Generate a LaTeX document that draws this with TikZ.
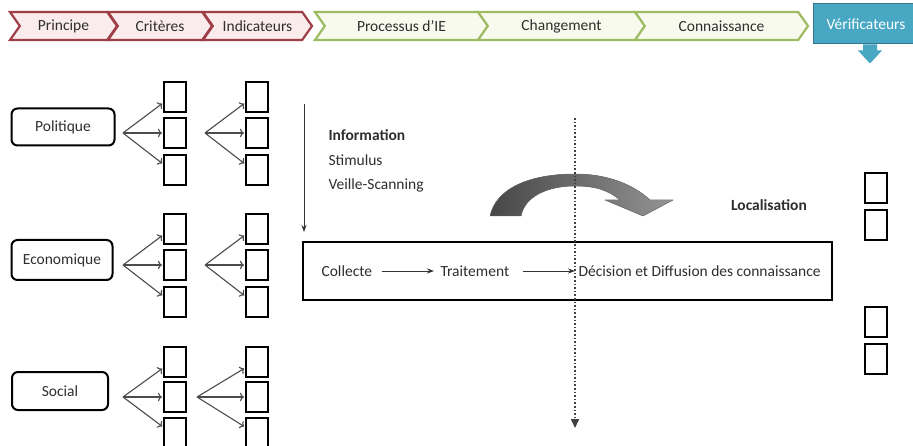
\documentclass[tikz,border=0pt]{standalone}
\usepackage{fontspec}
\setmainfont{Carlito}
\usetikzlibrary{shapes.symbols,arrows.meta}
\definecolor{chevred}{RGB}{160,62,72}
\definecolor{chevpink}{RGB}{250,236,236}
\definecolor{chevgreen}{RGB}{158,187,98}
\definecolor{chevpale}{RGB}{248,250,238}
\definecolor{verifblue}{RGB}{72,168,196}
\tikzset{
  chev/.style={signal, signal to=east, signal from=west, signal pointer angle=110,
    line width=2.2pt, minimum height=28pt, inner sep=0pt},
  redchev/.style={chev, draw=chevred, fill=chevpink},
  greenchev/.style={chev, draw=chevgreen, fill=chevpale},
  domainbox/.style={draw, line width=2pt, rounded corners=6pt, minimum height=37pt},
  sq/.style={draw, line width=2pt, minimum width=22pt, minimum height=30pt},
  fan/.style={->, line width=1.1pt, black!70, shorten >=1pt},
  flow/.style={-{Stealth[length=7pt,width=5pt]}, line width=0.9pt, black!80},
  dots/.style={-{Triangle[length=9pt,width=8pt]}, line width=1.6pt, black!75,
    dash pattern=on 1.6pt off 2pt},
}
\begin{document}
\begin{tikzpicture}[x=1pt,y=-1pt,font=\fontsize{15.5}{18}\selectfont,text=black!82]
\useasboundingbox[fill=white] (0,0) rectangle (913,446);
\node[redchev, minimum width=107pt] (principe) at (63.5,26) {Principe};
\node[redchev, minimum width=104pt] (criteres) at (160,26) {Critères};
\node[redchev, minimum width=109pt] (indic) at (257.5,26) {Indicateurs};
\node[greenchev, minimum width=173pt] (processus) at (401.5,26) {Processus d’IE};
\node[greenchev, minimum width=167pt] (changement) at (561.5,26) {Changement};
\node[greenchev, minimum width=173pt] (connaissance) at (721.5,26) {Connaissance};
\node[fill=verifblue, draw=verifblue!70!black, line width=1pt, minimum width=106pt,
  minimum height=40pt, text=white] (verif) at (866,24) {Vérificateurs};
\fill[verifblue] ([xshift=-3pt]verif.south) -- ++(0,6) -- ++(-5,0) -- ++(12,13)
  -- ++(12,-13) -- ++(-5,0) -- ++(0,-6) -- cycle;

\node[domainbox, minimum width=103pt] (politique) at (63,127) {Politique};
\node[domainbox, minimum width=101pt, minimum height=40pt] (economique) at (62,260) {Economique};
\node[domainbox, minimum width=96pt, minimum height=38pt] (social) at (60,391) {Social};

\node[sq] (p1a) at (175,97) {}; \node[sq] (p1b) at (175,133) {}; \node[sq] (p1c) at (175,170) {};
\node[sq] (p2a) at (257,97) {}; \node[sq] (p2b) at (257,133) {}; \node[sq] (p2c) at (257,170) {};
\node[sq] (e1a) at (175,229) {}; \node[sq] (e1b) at (175,265) {}; \node[sq] (e1c) at (175,302) {};
\node[sq] (e2a) at (257,229) {}; \node[sq] (e2b) at (257,265) {}; \node[sq] (e2c) at (257,302) {};
\node[sq] (s1a) at (175,362) {}; \node[sq] (s1b) at (175,397) {}; \node[sq] (s1c) at (175,433) {};
\node[sq] (s2a) at (257,362) {}; \node[sq] (s2b) at (257,397) {}; \node[sq] (s2c) at (257,433) {};

\coordinate (pf1) at (123,133); \coordinate (pf2) at (205,133);
\coordinate (ef1) at (123,265); \coordinate (ef2) at (205,265);
\coordinate (sf1) at (123,397); \coordinate (sf2) at (197,397);
\draw[fan] (pf1) -- ([yshift=-6pt]p1a.west); \draw[fan] (pf1) -- (p1b.west); \draw[fan] (pf1) -- ([yshift=6pt]p1c.west);
\draw[fan] (pf2) -- ([yshift=-6pt]p2a.west); \draw[fan] (pf2) -- (p2b.west); \draw[fan] (pf2) -- ([yshift=6pt]p2c.west);
\draw[fan] (ef1) -- ([yshift=-6pt]e1a.west); \draw[fan] (ef1) -- (e1b.west); \draw[fan] (ef1) -- ([yshift=6pt]e1c.west);
\draw[fan] (ef2) -- ([yshift=-6pt]e2a.west); \draw[fan] (ef2) -- (e2b.west); \draw[fan] (ef2) -- ([yshift=6pt]e2c.west);
\draw[fan] (sf1) -- ([yshift=-6pt]s1a.west); \draw[fan] (sf1) -- (s1b.west); \draw[fan] (sf1) -- ([yshift=6pt]s1c.west);
\draw[fan] (sf2) -- ([yshift=-6pt]s2a.west); \draw[fan] (sf2) -- (s2b.west); \draw[fan] (sf2) -- ([yshift=6pt]s2c.west);

\node[anchor=west] (info) at (325,135) {\textbf{Information}};
\node[anchor=west] (stimulus) at (325,160) {Stimulus};
\node[anchor=west] (veille) at (325,185) {Veille-Scanning};

\node[draw=black, line width=2pt, minimum width=529pt, minimum height=58pt] (procbox) at (567.5,271) {};
\coordinate (infotop) at (304,104);
\draw[flow] (infotop) -- ([yshift=9pt]infotop |- procbox.north);
\node[anchor=west] (collecte) at (318,271) {Collecte};
\node[anchor=west] (traitement) at (437,271) {Traitement};
\node[anchor=west] (decision) at (575,271) {Décision et Diffusion des connaissance};
\draw[flow, shorten <=6pt, shorten >=3pt] (collecte) -- (traitement);
\draw[flow, shorten <=10pt, shorten >=0pt] (traitement) -- (decision);

\fill[left color=black!72, right color=black!42, draw=black!55] (490,216)
  .. controls (496,188) and (530,174) .. (575,174) .. controls (610,174) and (635,186) .. (650,200)
  -- (673,200) -- (643,216) -- (605,200) -- (620,200)
  .. controls (608,190) and (595,186) .. (575,186) .. controls (548,186) and (525,196) .. (521,216) -- cycle;
\node (local) at (769,205) {\textbf{Localisation}};

\coordinate (dtop) at (575,118); \coordinate (dbot) at (575,428);
\draw[dots] (dtop) -- (dbot);

\node[sq] (v1) at (876,188) {}; \node[sq] (v2) at (876,225) {};
\node[sq] (v3) at (876,322) {}; \node[sq] (v4) at (876,359) {};
\end{tikzpicture}
\end{document}
